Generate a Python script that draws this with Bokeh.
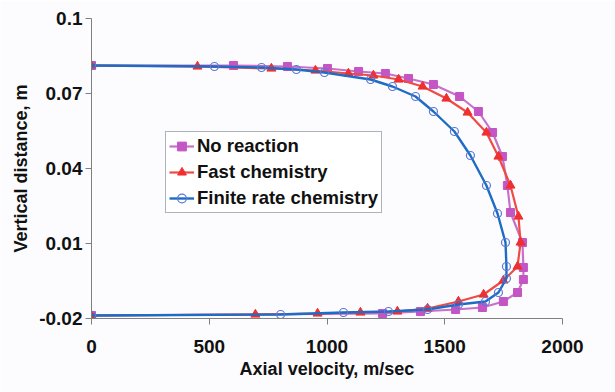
from bokeh.plotting import figure
from bokeh.models import Range1d, FixedTicker, Legend, LegendItem
from bokeh.embed import file_html
from bokeh.resources import INLINE

# ---- data ----
nr_vel = [0, 603, 832, 1002, 1134, 1248, 1346, 1452, 1563, 1643, 1703, 1745, 1766, 1779,
          1830, 1834, 1834, 1809, 1749, 1660, 1546, 1397, 1236, 0]
nr_y = [0.0812, 0.0812, 0.0808, 0.0800, 0.0788, 0.0780, 0.0760, 0.0736, 0.0688, 0.0628,
        0.0544, 0.0448, 0.0332, 0.0224, 0.0104, 0.0004, -0.0044, -0.0096, -0.0132,
        -0.0156, -0.0164, -0.0172, -0.0180, -0.0188]

fc_vel = [0, 450, 764, 951, 1091, 1197, 1304, 1406, 1507, 1597, 1677, 1728, 1779, 1813,
          1822, 1809, 1749, 1665, 1558, 1427, 1299, 1142, 960, 696, 0]
fc_y = [0.0812, 0.0808, 0.0800, 0.0792, 0.0780, 0.0772, 0.0756, 0.0728, 0.0680, 0.0624,
        0.0544, 0.0448, 0.0332, 0.0208, 0.0104, 0.0008, -0.0048, -0.0104, -0.0132,
        -0.0160, -0.0172, -0.0176, -0.0180, -0.0184, -0.0188]

fr_vel = [0, 522, 722, 870, 989, 1185, 1278, 1376, 1452, 1541, 1609, 1677, 1724, 1758,
          1762, 1762, 1728, 1673, 1558, 1427, 1261, 1070, 803, 0]
fr_y = [0.0812, 0.0808, 0.0804, 0.0796, 0.0784, 0.0756, 0.0728, 0.0688, 0.0628, 0.0548,
        0.0452, 0.0332, 0.0220, 0.0104, 0.0008, -0.0040, -0.0096, -0.0132, -0.0144,
        -0.0164, -0.0172, -0.0176, -0.0184, -0.0188]

series_names = ["No reaction", "Fast chemistry", "Finite rate chemistry"]

x_ticks = [0, 500, 1000, 1500, 2000]
y_ticks = [-0.02, 0.01, 0.04, 0.07, 0.1]
y_tick_labels = ["-0.02", "0.01", "0.04", "0.07", "0.1"]

FONT = "Liberation Sans"

p = figure(width=615, height=392, output_backend="svg", toolbar_location=None,
           x_range=Range1d(0, 2000), y_range=Range1d(-0.02, 0.1),
           min_border_left=91, min_border_right=53, min_border_top=18, min_border_bottom=74)
p.background_fill_color = "#FCFCFE"
p.border_fill_color = "#FCFCFE"
p.outline_line_color = None
p.grid.visible = False

for ax in (p.xaxis[0], p.yaxis[0]):
    ax.axis_line_color = "#808080"
    ax.axis_line_width = 1
    ax.major_tick_line_color = "#808080"
    ax.major_tick_in = 0
    ax.major_tick_out = 6
    ax.minor_tick_line_color = None
    ax.major_label_text_font = FONT
    ax.major_label_text_font_style = "bold"
    ax.major_label_text_font_size = "19px"
    ax.major_label_text_color = "#111111"
    ax.axis_label_text_font = FONT
    ax.axis_label_text_font_style = "bold"
    ax.axis_label_text_font_size = "18px"
    ax.axis_label_text_color = "#111111"

p.xaxis.ticker = FixedTicker(ticks=x_ticks)
p.yaxis.ticker = FixedTicker(ticks=y_ticks)
p.yaxis.major_label_overrides = {t: l for t, l in zip(y_ticks, y_tick_labels)}
p.xaxis.axis_label = "Axial velocity, m/sec"
p.yaxis.axis_label = "Vertical distance, m"
p.xaxis.major_label_standoff = 15
p.xaxis.axis_label_standoff = 3
p.yaxis.major_label_standoff = 3
p.yaxis.axis_label_standoff = 5

# No reaction
l1 = p.line(nr_vel, nr_y, line_color="#C870C8", line_width=2.2)
s1 = p.scatter(nr_vel, nr_y, marker="square", size=8, fill_color="#C455C4",
               line_color="#C455C4")
# Fast chemistry
l2 = p.line(fc_vel, fc_y, line_color="#F04A45", line_width=2.2)
s2 = p.scatter(fc_vel, fc_y, marker="triangle", size=9, fill_color="#EE3030",
               line_color="#EE3030")
# Finite rate chemistry
l3 = p.line(fr_vel, fr_y, line_color="#1E6CC4", line_width=2.4)
s3 = p.scatter(fr_vel, fr_y, marker="circle", size=8, fill_color=None,
               line_color="#5A78D8", line_width=1.2)

legend = Legend(items=[
    LegendItem(label=series_names[0], renderers=[l1, s1]),
    LegendItem(label=series_names[1], renderers=[l2, s2]),
    LegendItem(label=series_names[2], renderers=[l3, s3]),
], location=(74, 105))
legend.label_text_font = FONT
legend.label_text_font_style = "bold"
legend.label_text_font_size = "18.5px"
legend.label_text_color = "#111111"
legend.glyph_width = 25
legend.glyph_height = 22
legend.label_height = 22
legend.label_standoff = 3
legend.spacing = 4
legend.padding = 3
legend.margin = 0
legend.border_line_color = "#5A6878"
legend.border_line_width = 1
legend.background_fill_color = "white"
legend.background_fill_alpha = 1
p.add_layout(legend, "center")

open("out.html", "w").write(file_html(p, INLINE))
